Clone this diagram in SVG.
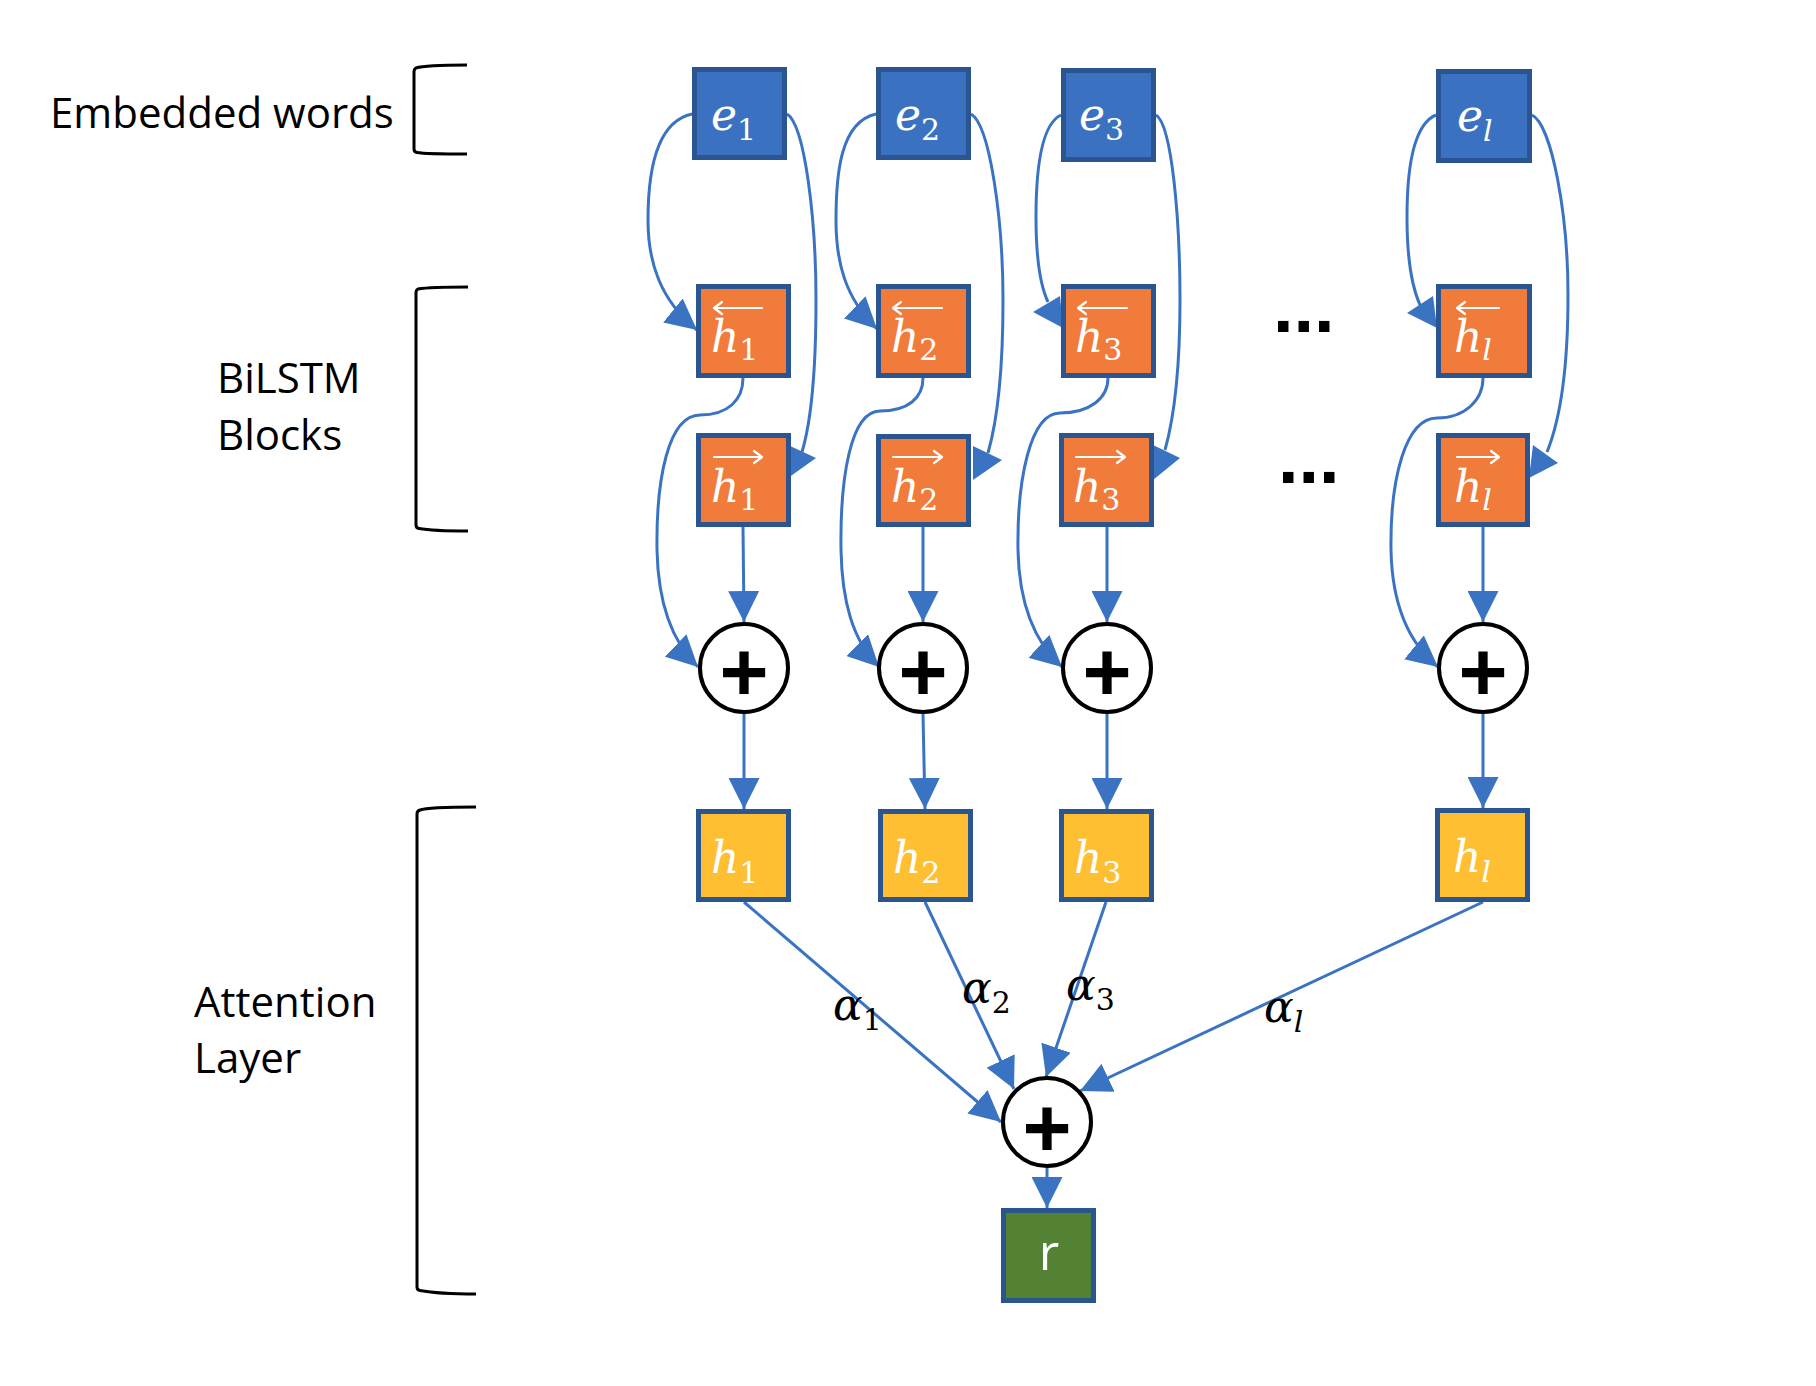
<svg xmlns="http://www.w3.org/2000/svg" width="1816" height="1386" viewBox="0 0 1816 1386">
<style>
.bg{fill:#fff}
.lbl{font-family:"Open Sans","Liberation Sans",sans-serif;font-size:42px;fill:#000}
.box{stroke:#2B5590;stroke-width:5}
.be{fill:#3A72C1}.bo{fill:#F07B3B}.by{fill:#FFBF33}.bg2{fill:#548235}
.m{font-family:"DejaVu Serif","Liberation Serif",serif;font-style:italic;font-size:44px;fill:#fff}
.s{font-size:30px;font-style:normal}
.sl{font-size:30px;font-style:italic}
.ov{stroke:#fff;stroke-width:2.2;fill:none;stroke-linecap:round;stroke-linejoin:round}
.c{fill:#fff;stroke:#000;stroke-width:4}
.plus{font-family:"Liberation Sans",sans-serif;font-weight:bold;font-size:84px;text-anchor:middle;fill:#000}
.ln{fill:none;stroke:#3B73C3;stroke-width:3}
.ah{fill:#3B73C3}
.br{fill:none;stroke:#000;stroke-width:3}
.a{font-family:"DejaVu Serif","Liberation Serif",serif;font-style:italic;font-size:44px;fill:#000}
.dots{font-family:"Liberation Sans",sans-serif;font-weight:bold;font-size:74px;fill:#000}
.r{font-family:"Open Sans","Liberation Sans",sans-serif;font-size:50px;fill:#fff;text-anchor:middle}
</style>
<defs>
<marker id="arr" markerUnits="userSpaceOnUse" markerWidth="31" markerHeight="31" viewBox="0 0 31 31" refX="31" refY="15.5" orient="auto">
<path d="M0,0 L31,15.5 L0,31 Z" fill="#3B73C3"/>
</marker>
</defs>
<rect class="bg" x="0" y="0" width="1816" height="1386"/>

<g id="labels">
<text class="lbl" x="50" y="128">Embedded words</text>
<text class="lbl" x="217" y="393">BiLSTM</text>
<text class="lbl" x="217" y="450">Blocks</text>
<text class="lbl" x="194" y="1017">Attention</text>
<text class="lbl" x="194" y="1073">Layer</text>
<path class="br" d="M467,65 C445,65 422,66 416,68 Q414,69 414,72 L414,149 Q414,152 417,152.5 C425,154 445,154 467,154"/>
<path class="br" d="M468,287 C446,287 424,288 418,289 Q416,290 416,293 L416,525 Q416,528 419,528.5 C427,530 447,531 468,531"/>
<path class="br" d="M476,807 C454,807 425,808 420,810 Q417,811 417,814 L417,1287 Q417,1290 420,1290.5 C428,1292 450,1294 476,1294"/>
</g>

<g id="connectors">
<path class="ln" marker-end="url(#arr)" d="M692,114 C655,122 648,175 648,220 C648,262 660,300 697,330"/>
<path class="ln" marker-end="url(#arr)" d="M876,114 C840,122 836,175 836,220 C836,262 845,298 877,329"/>
<path class="ln" d="M1061,115 C1040,125 1036,175 1036,217 C1036,255 1040,285 1048,302"/>
<polygon class="ah" points="1033,312 1060,296 1063,328"/>
<path class="ln" d="M1436,115 C1412,125 1407,175 1407,217 C1407,258 1411,285 1420,305"/>
<polygon class="ah" points="1407,313 1433,296 1437,328"/>
<path class="ln" d="M787,114 C805,125 816,220 816,300 C816,380 810,425 802,452"/>
<polygon class="ah" points="788,445 816,458 788,478"/>
<path class="ln" d="M971,114 C990,125 1003,220 1003,300 C1003,380 996,425 988,453"/>
<polygon class="ah" points="973,446 1002,460 973,480"/>
<path class="ln" d="M1156,115 C1172,125 1180,220 1180,300 C1180,380 1172,425 1165,450"/>
<polygon class="ah" points="1153,445 1180,458 1153,480"/>
<path class="ln" d="M1532,115 C1552,125 1568,215 1568,295 C1568,375 1558,425 1547,452"/>
<polygon class="ah" points="1533,445 1558,463 1529,478"/>
<path class="ln" marker-end="url(#arr)" d="M743,378 C743,400 728,415 700,415 C668,415 656,480 657,550 C658,600 670,640 698,667"/>
<path class="ln" marker-end="url(#arr)" d="M923,378 C923,398 908,411 880,411 C850,411 840,480 841,550 C842,600 852,640 879,667"/>
<path class="ln" marker-end="url(#arr)" d="M1108,378 C1108,398 1090,413 1060,413 C1030,413 1017,480 1018,550 C1019,600 1032,640 1062,667"/>
<path class="ln" marker-end="url(#arr)" d="M1483,378 C1483,400 1465,418 1437,418 C1405,418 1390,480 1391,550 C1392,600 1405,640 1438,667"/>
<path class="ln" marker-end="url(#arr)" d="M743,527 L744,622"/>
<path class="ln" marker-end="url(#arr)" d="M923,527 L923,622"/>
<path class="ln" marker-end="url(#arr)" d="M1107,527 L1107,622"/>
<path class="ln" marker-end="url(#arr)" d="M1483,527 L1483,622"/>
<path class="ln" marker-end="url(#arr)" d="M744,714 L744,809"/>
<path class="ln" marker-end="url(#arr)" d="M923,714 L925,809"/>
<path class="ln" marker-end="url(#arr)" d="M1107,714 L1107,809"/>
<path class="ln" marker-end="url(#arr)" d="M1483,714 L1483,808"/>
<path class="ln" marker-end="url(#arr)" d="M744,902 L1001,1122"/>
<path class="ln" marker-end="url(#arr)" d="M925,902 L1014,1089"/>
<path class="ln" marker-end="url(#arr)" d="M1106,902 L1046,1077"/>
<path class="ln" marker-end="url(#arr)" d="M1483,902 L1080,1091"/>
<path class="ln" marker-end="url(#arr)" d="M1047,1168 L1047,1208"/>
<text class="a" x="833" y="1020">α<tspan class="s" dy="10">1</tspan></text>
<text class="a" x="962" y="1003">α<tspan class="s" dy="10">2</tspan></text>
<text class="a" x="1066" y="1000">α<tspan class="s" dy="10">3</tspan></text>
<text class="a" x="1264" y="1022">α<tspan class="sl" dy="10">l</tspan></text>
</g>

<g id="dots">
<text class="dots" x="1273" y="332">...</text>
<text class="dots" x="1278" y="483">...</text>
</g>

<g id="e1"><rect class="box be" x="694.5" y="69.5" width="90" height="88"/><text class="m" x="711" y="130">e<tspan class="s" dy="10">1</tspan></text></g>
<g id="e2"><rect class="box be" x="878.5" y="69.5" width="90" height="88"/><text class="m" x="895" y="130">e<tspan class="s" dy="10">2</tspan></text></g>
<g id="e3"><rect class="box be" x="1063.5" y="70.5" width="90" height="89"/><text class="m" x="1079" y="130">e<tspan class="s" dy="10">3</tspan></text></g>
<g id="el"><rect class="box be" x="1438.5" y="71.5" width="91" height="89"/><text class="m" x="1457" y="131">e<tspan class="sl" dy="10">l</tspan></text></g>

<g id="h1b"><rect class="box bo" x="698.5" y="286.5" width="90" height="89"/><text class="m" x="711" y="352">h<tspan class="s" dy="8">1</tspan></text><path class="ov" d="M714,308 H762 M722,302 L714,308 L722,314"/></g>
<g id="h2b"><rect class="box bo" x="878.5" y="286.5" width="90" height="89"/><text class="m" x="891" y="352">h<tspan class="s" dy="8">2</tspan></text><path class="ov" d="M893,308 H942 M901,302 L893,308 L901,314"/></g>
<g id="h3b"><rect class="box bo" x="1063.5" y="286.5" width="90" height="89"/><text class="m" x="1075" y="352">h<tspan class="s" dy="8">3</tspan></text><path class="ov" d="M1078,308 H1127 M1086,302 L1078,308 L1086,314"/></g>
<g id="hlb"><rect class="box bo" x="1438.5" y="286.5" width="91" height="89"/><text class="m" x="1454" y="352">h<tspan class="sl" dy="8">l</tspan></text><path class="ov" d="M1457,308 H1499 M1465,302 L1457,308 L1465,314"/></g>

<g id="h1f"><rect class="box bo" x="698.5" y="435.5" width="90" height="89"/><text class="m" x="711" y="502">h<tspan class="s" dy="8">1</tspan></text><path class="ov" d="M714,457 H762 M754,451 L762,457 L754,463"/></g>
<g id="h2f"><rect class="box bo" x="878.5" y="436.5" width="90" height="88"/><text class="m" x="891" y="502">h<tspan class="s" dy="8">2</tspan></text><path class="ov" d="M893,457 H942 M934,451 L942,457 L934,463"/></g>
<g id="h3f"><rect class="box bo" x="1061.5" y="435.5" width="90" height="89"/><text class="m" x="1073" y="502">h<tspan class="s" dy="8">3</tspan></text><path class="ov" d="M1076,457 H1125 M1117,451 L1125,457 L1117,463"/></g>
<g id="hlf"><rect class="box bo" x="1438.5" y="435.5" width="89" height="89"/><text class="m" x="1454" y="502">h<tspan class="sl" dy="8">l</tspan></text><path class="ov" d="M1457,457 H1499 M1491,451 L1499,457 L1491,463"/></g>

<g id="p1"><circle class="c" cx="744" cy="668" r="44"/><text class="plus" x="744" y="701">+</text></g>
<g id="p2"><circle class="c" cx="923" cy="668" r="44"/><text class="plus" x="923" y="701">+</text></g>
<g id="p3"><circle class="c" cx="1107" cy="668" r="44"/><text class="plus" x="1107" y="701">+</text></g>
<g id="pl"><circle class="c" cx="1483" cy="668" r="44"/><text class="plus" x="1483" y="701">+</text></g>

<g id="h1"><rect class="box by" x="698.5" y="811.5" width="90" height="88"/><text class="m" x="711" y="873">h<tspan class="s" dy="10">1</tspan></text></g>
<g id="h2"><rect class="box by" x="880.5" y="811.5" width="90" height="88"/><text class="m" x="893" y="873">h<tspan class="s" dy="10">2</tspan></text></g>
<g id="h3"><rect class="box by" x="1061.5" y="811.5" width="90" height="88"/><text class="m" x="1074" y="873">h<tspan class="s" dy="10">3</tspan></text></g>
<g id="hl"><rect class="box by" x="1437.5" y="810.5" width="90" height="89"/><text class="m" x="1453" y="872">h<tspan class="sl" dy="10">l</tspan></text></g>

<g id="sum"><circle class="c" cx="1047" cy="1122" r="44"/><text class="plus" x="1047" y="1157">+</text></g>
<g id="r"><rect class="box bg2" x="1003.5" y="1210.5" width="90" height="90"/><text class="r" x="1049" y="1270">r</text></g>
</svg>
